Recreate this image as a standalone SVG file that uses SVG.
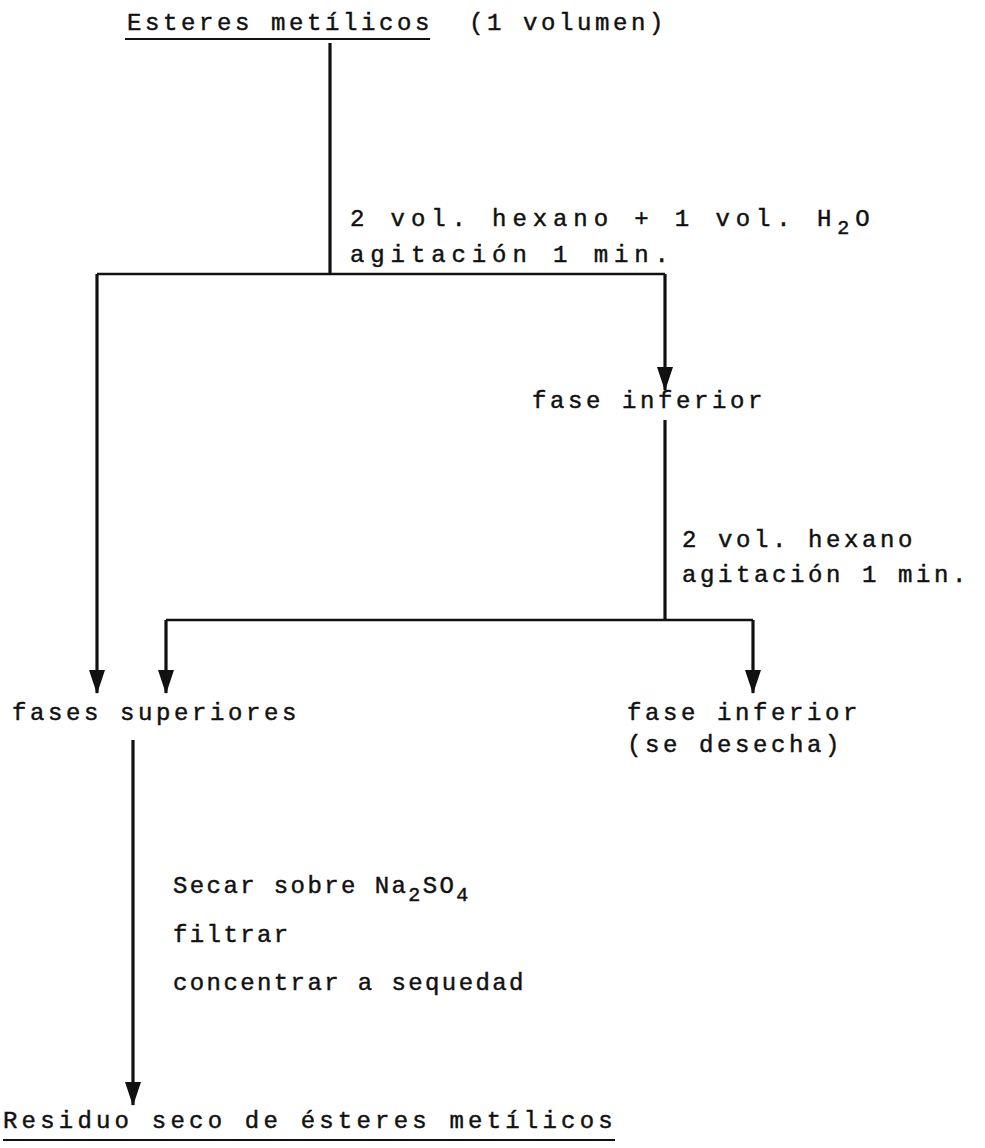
<svg xmlns="http://www.w3.org/2000/svg" width="985" height="1148" viewBox="0 0 985 1148">
<style>
text{font-family:"Liberation Mono","DejaVu Sans Mono",monospace;font-size:24px;fill:#111;stroke:#111;stroke-width:0.45;letter-spacing:3.6px}
.sub{font-size:20px}
.w{letter-spacing:5.9px}
.n{letter-spacing:2.4px}
.r{letter-spacing:4.2px}
.ln{stroke:#111;stroke-width:3.2;fill:none}
.h{stroke-width:2.6}
.ul{stroke:#111;stroke-width:2}
</style>
<defs>
<marker id="ah" markerUnits="userSpaceOnUse" viewBox="0 0 24 16" refX="23" refY="8" markerWidth="24" markerHeight="16" orient="auto"><path d="M0,0 L24,8 L0,16 Z" fill="#111"/></marker>
</defs>
<rect width="985" height="1148" fill="#fff"/>
<g id="connectors">
<path class="ln" d="M330,43 V274"/>
<path class="ln h" d="M97,274 H665"/>
<path class="ln" d="M97,274 V693" marker-end="url(#ah)"/>
<path class="ln" d="M665,274 V390" marker-end="url(#ah)"/>
<path class="ln" d="M665,420 V620"/>
<path class="ln h" d="M166,620 H753"/>
<path class="ln" d="M166,620 V693" marker-end="url(#ah)"/>
<path class="ln" d="M753,620 V693" marker-end="url(#ah)"/>
<path class="ln" d="M133,740 V1105" marker-end="url(#ah)"/>
</g>
<g id="n-esteres">
<text x="127" y="30">Esteres metílicos</text>
<text x="469" y="30">(1 volumen)</text>
<line class="ul" x1="125" y1="39" x2="430" y2="39"/>
</g>
<g id="l-1">
<text class="w" x="350" y="226">2 vol. hexano + 1 vol. H<tspan class="sub" dy="8">2</tspan><tspan dy="-8">O</tspan></text>
<text class="w" x="350" y="262">agitación 1 min.</text>
</g>
<g id="n-fase-inferior-1">
<text x="532" y="408">fase inferior</text>
</g>
<g id="l-2">
<text x="682" y="547">2 vol. hexano</text>
<text x="682" y="582">agitación 1 min.</text>
</g>
<g id="n-fases-superiores">
<text x="12" y="720">fases superiores</text>
</g>
<g id="n-fase-inferior-2">
<text x="627" y="720">fase inferior</text>
<text x="627" y="752">(se desecha)</text>
</g>
<g id="l-3">
<text class="n" x="173" y="893">Secar sobre Na<tspan class="sub" dy="8">2</tspan><tspan dy="-8">SO</tspan><tspan class="sub" dy="8">4</tspan></text>
<text class="n" x="173" y="942">filtrar</text>
<text class="n" x="173" y="990">concentrar a sequedad</text>
</g>
<g id="n-residuo">
<text class="r" x="3" y="1128">Residuo seco de ésteres metílicos</text>
<line class="ul" x1="3" y1="1140" x2="615" y2="1140"/>
</g>
</svg>
